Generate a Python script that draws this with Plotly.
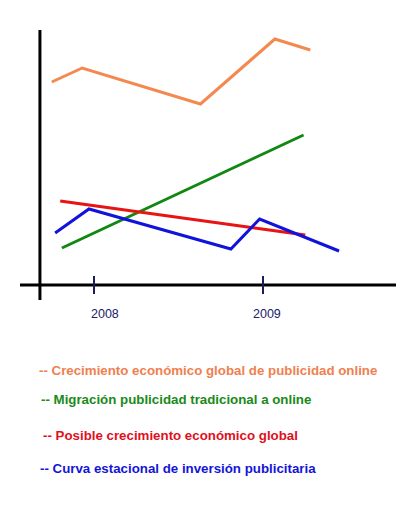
import plotly.graph_objects as go

# ---- data (x in years, y in arbitrary units) ----
orange_x = [2007.75, 2007.93, 2008.63, 2009.07, 2009.28]
orange_y = [203, 217, 181, 246, 235]
green_x = [2007.81, 2009.24]
green_y = [37, 150]
red_x = [2007.80, 2009.25]
red_y = [84, 50]
blue_x = [2007.77, 2007.97, 2008.81, 2008.98, 2009.45]
blue_y = [52, 76, 36, 66, 34]

names = [
    "Crecimiento económico global de publicidad online",
    "Migración publicidad tradicional a online",
    "Posible crecimiento económico global",
    "Curva estacional de inversión publicitaria",
]
line_colors = ["#f4894f", "#118811", "#e81414", "#1212dd"]
text_colors = ["#f0804f", "#1a8a1a", "#e01020", "#1414d8"]
tick_vals = [2008, 2009]
tick_text = ["2008", "2009"]

W, H = 420, 506
L, R, T, B = 20, 24, 30, 206
x_range = [2007.562, 2009.787]
y_range = [-15, 255]
y_axis_x = 2007.68

fig = go.Figure()
series = [(orange_x, orange_y), (green_x, green_y), (red_x, red_y), (blue_x, blue_y)]
for (xs, ys), nm, c in zip(series, names, line_colors):
    fig.add_trace(go.Scatter(x=xs, y=ys, mode="lines", name=nm,
                             line=dict(color=c, width=3), showlegend=False))

shapes = [
    dict(type="line", xref="x", yref="paper", x0=y_axis_x, x1=y_axis_x, y0=0, y1=1,
         line=dict(color="black", width=3)),
    dict(type="line", xref="paper", yref="y", x0=0, x1=1, y0=0, y1=0,
         line=dict(color="black", width=3)),
]
for tv in tick_vals:
    shapes.append(dict(type="line", xref="x", yref="y", x0=tv, x1=tv, y0=-9, y1=9,
                       line=dict(color="#1c1c5c", width=2)))

plot_h = H - T - B
annotations = []
shifts = [11, 4]
for tv, tt, sh in zip(tick_vals, tick_text, shifts):
    annotations.append(dict(x=tv, y=(H - B - 314) / plot_h, xref="x", yref="paper",
                            text=tt, showarrow=False, yanchor="middle",
                            xshift=sh, font=dict(family="Liberation Sans, Arial", size=12.5,
                                                 color="#20206a")))

legend_px_y = [370, 400, 435, 469]
legend_px_x = [37, 39, 41, 38]
for nm, c, py, px in zip(names, text_colors, legend_px_y, legend_px_x):
    annotations.append(dict(
        x=(px - L) / (W - L - R), y=(H - B - py) / plot_h, xref="paper", yref="paper",
        xanchor="left", yanchor="middle", text="<b>-- " + nm + "</b>", showarrow=False,
        font=dict(family="Liberation Sans, Arial", size=13.3, color=c)))

fig.update_layout(
    width=W, height=H, margin=dict(l=L, r=R, t=T, b=B),
    paper_bgcolor="white", plot_bgcolor="white",
    xaxis=dict(range=x_range, visible=False, fixedrange=True),
    yaxis=dict(range=y_range, visible=False, fixedrange=True),
    shapes=shapes, annotations=annotations,
)
fig.write_html("out.html")
